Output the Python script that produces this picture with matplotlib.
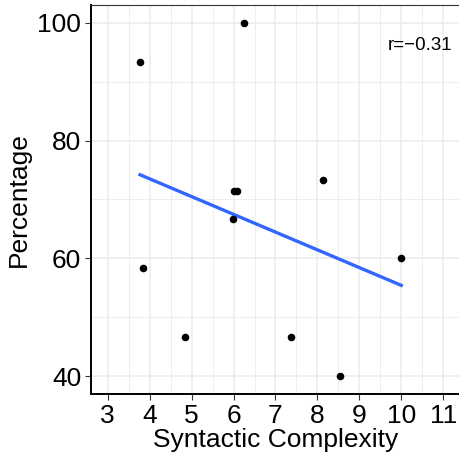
import numpy as np
import matplotlib
matplotlib.use("Agg")
import matplotlib.pyplot as plt
from matplotlib.ticker import MultipleLocator

plt.rcParams.update({
    "font.family": ["Liberation Sans", "DejaVu Sans"],
    "font.size": 19,
})

# Data
complexity = [3.77, 6.25, 6.02, 6.09, 5.99, 8.13, 3.83, 4.83, 7.36, 8.54, 10.0]
percentage = [93.3, 100.0, 71.4, 71.4, 66.7, 73.3, 58.3, 46.7, 46.7, 40.0, 60.0]
r_label = "r=\u22120.31"

x = np.array(complexity)
y = np.array(percentage)
slope, intercept = np.polyfit(x, y, 1)
xs = np.array([x.min(), x.max()])

fig = plt.figure(figsize=(4.6, 4.61), dpi=100)
ax = fig.add_axes([91 / 460, 67 / 461, 369 / 460, 389 / 461])

ax.set_xlim(2.6, 11.4)
ax.set_ylim(37, 103)
ax.xaxis.set_major_locator(MultipleLocator(1))
ax.xaxis.set_minor_locator(MultipleLocator(0.5))
ax.yaxis.set_major_locator(MultipleLocator(20))
ax.yaxis.set_minor_locator(MultipleLocator(10))

ax.grid(True, which="major", color="#EBEBEB", linewidth=1.1)
ax.grid(True, which="minor", color="#EBEBEB", linewidth=0.6)
ax.set_axisbelow(True)

ax.plot(xs, slope * xs + intercept, color="#3366FF", linewidth=2.4, zorder=2)
ax.scatter(x, y, s=30, color="black", zorder=3, linewidths=0)

ax.text(11.22, 96.2, r_label, ha="right", va="center", fontsize=13.5)

for side in ["left", "bottom"]:
    ax.spines[side].set_linewidth(1.4)
    ax.spines[side].set_color("black")
ax.spines["top"].set_linewidth(0.8)
ax.spines["top"].set_color("#333333")
ax.spines["right"].set_visible(False)

ax.tick_params(which="major", length=4, width=0.8, color="#333333",
               labelsize=19, labelcolor="black", pad=3)
ax.tick_params(which="minor", length=0)

ax.set_xlabel("Syntactic Complexity", fontsize=19, labelpad=0)
ax.set_ylabel("Percentage", fontsize=19, labelpad=5)

fig.savefig("out.png", dpi=100)
